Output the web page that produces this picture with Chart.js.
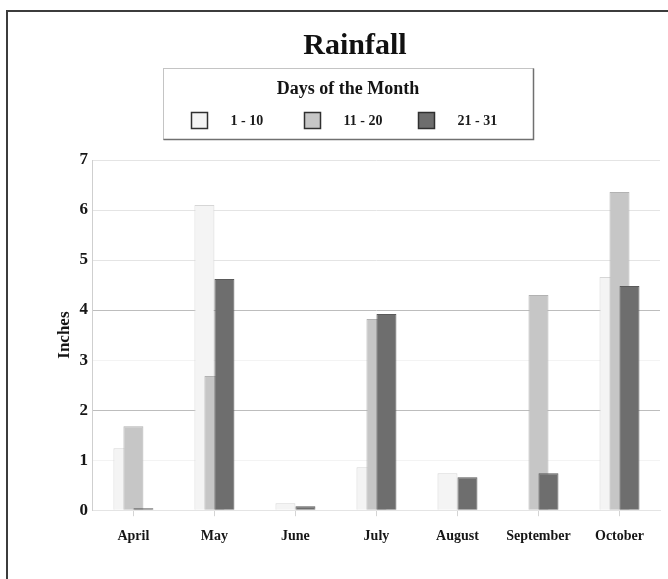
<!DOCTYPE html>
<html>
<head>
<meta charset="utf-8">
<title>Rainfall</title>
<script src="https://cdn.jsdelivr.net/npm/chart.js@4"></script>
<style>
  html, body { margin: 0; padding: 0; overflow: hidden; background: #ffffff; }
  #frame {
    position: absolute;
    left: 6px;
    top: 10px;
    border: 2px solid #3c3c3c;
    background: #ffffff;
  }
  #frame canvas { display: block; }
</style>
</head>
<body>
<div id="frame"><canvas id="rain" width="680" height="580"></canvas></div>
<script>
// Monthly rainfall (inches), split into three parts of each month
const months = ['April', 'May', 'June', 'July', 'August', 'September', 'October'];
const seriesNames = ['1 - 10', '11 - 20', '21 - 31'];
const days1to10 = [1.24, 6.1, 0.14, 0.86, 0.74, 0, 4.66];
const days11to20 = [1.68, 2.68, 0, 3.82, 0, 4.3, 6.36];
const days21to31 = [0.04, 4.62, 0.08, 3.92, 0.66, 0.74, 4.48];
const yTicks = [0, 1, 2, 3, 4, 5, 6, 7];
const chartTitle = 'Rainfall';
const legendTitle = 'Days of the Month';
const axisTitle = 'Inches';

const serif = "'Liberation Serif', 'DejaVu Serif', serif";
Chart.defaults.font.family = serif;
Chart.defaults.color = '#1a1a1a';

const fills = ['#f4f4f4', '#c6c6c6', '#6e6e6e'];
const edges = ['#d6d6d6', '#b2b2b2', '#5a5a5a'];

// Later series sit in front of earlier ones where the bars overlap
const frontToBack = {
  id: 'frontToBack',
  beforeDatasetsDraw(chart) {
    chart.data.datasets.forEach((ds, i) => {
      const meta = chart.getDatasetMeta(i);
      if (meta.visible !== false) meta.controller.draw();
    });
    return false;
  }
};

// Boxed legend with a heading, drawn between the title and the plot
const boxedLegend = {
  id: 'boxedLegend',
  afterDraw(chart, args, opts) {
    const ctx = chart.ctx;
    const cx = chart.width / 2;
    const left = Math.round(cx - opts.width / 2) + 0.5;
    const top = opts.top + 0.5;
    const right = left + opts.width;
    const bottom = top + opts.height;
    ctx.save();
    ctx.lineWidth = 1;
    ctx.strokeStyle = '#c4c4c4';
    ctx.strokeRect(left, top, opts.width, opts.height);
    ctx.strokeStyle = '#707070';
    ctx.lineWidth = 1.5;
    ctx.beginPath();
    ctx.moveTo(left, bottom);
    ctx.lineTo(right, bottom);
    ctx.lineTo(right, top);
    ctx.stroke();

    ctx.fillStyle = '#141414';
    ctx.textAlign = 'center';
    ctx.textBaseline = 'middle';
    ctx.font = 'bold 18px ' + serif;
    ctx.fillText(legendTitle, cx, top + 21);

    ctx.font = 'bold 14px ' + serif;
    ctx.textAlign = 'left';
    const n = chart.data.datasets.length;
    const start = cx - (opts.slot * n) / 2;
    const rowY = top + 52;
    chart.data.datasets.forEach((ds, i) => {
      const bx = Math.round(start + i * opts.slot + 13) + 0.5;
      ctx.fillStyle = ds.backgroundColor;
      ctx.fillRect(bx, rowY - 8, 16, 16);
      ctx.strokeStyle = '#303030';
      ctx.lineWidth = 1.5;
      ctx.strokeRect(bx, rowY - 8, 16, 16);
      ctx.fillStyle = '#1a1a1a';
      ctx.fillText(ds.label, bx + 39, rowY + 1);
    });
    ctx.restore();
  }
};

const gridShade = (v) => {
  if (v === 2 || v === 4) return '#bdbdbd';
  if (v === 1 || v === 3) return '#f3f3f3';
  if (v === 0) return '#e2e2e2';
  return '#e4e4e4';
};

new Chart(document.getElementById('rain'), {
  type: 'bar',
  data: {
    labels: months,
    datasets: [days1to10, days11to20, days21to31].map((vals, i) => ({
      label: seriesNames[i],
      data: vals,
      backgroundColor: fills[i],
      borderColor: edges[i],
      borderWidth: 1,
      categoryPercentage: 0.37,
      barPercentage: 2
    }))
  },
  options: {
    responsive: false,
    animation: false,
    events: [],
    layout: { padding: { left: 42, right: 28, top: 0, bottom: 35 } },
    plugins: {
      legend: { display: false },
      tooltip: { enabled: false },
      title: {
        display: true,
        text: chartTitle,
        color: '#111111',
        font: { family: serif, size: 30, weight: 'bold' },
        padding: { top: 16, bottom: 96 }
      },
      boxedLegend: { width: 370, top: 56, height: 71, slot: 113.5 }
    },
    scales: {
      x: {
        grid: {
          offset: false,
          drawOnChartArea: false,
          drawTicks: true,
          tickLength: 6,
          color: '#d4d4d4'
        },
        border: { color: '#e4e4e4' },
        ticks: {
          padding: 12,
          color: '#161616',
          font: { family: serif, size: 14, weight: 'bold' }
        }
      },
      y: {
        min: 0,
        max: 7,
        afterBuildTicks(scale) {
          scale.ticks = yTicks.map(v => ({ value: v }));
        },
        grid: {
          drawTicks: false,
          color: (c) => gridShade(c.tick ? c.tick.value : -1)
        },
        border: { color: '#cfcfcf', width: 1 },
        ticks: {
          padding: 5,
          color: '#161616',
          font: { family: serif, size: 17, weight: 'bold' }
        },
        title: {
          display: true,
          text: axisTitle,
          color: '#141414',
          font: { family: serif, size: 17, weight: 'bold' },
          padding: { top: 4, bottom: 0 }
        }
      }
    }
  },
  plugins: [frontToBack, boxedLegend]
});
</script>
</body>
</html>
